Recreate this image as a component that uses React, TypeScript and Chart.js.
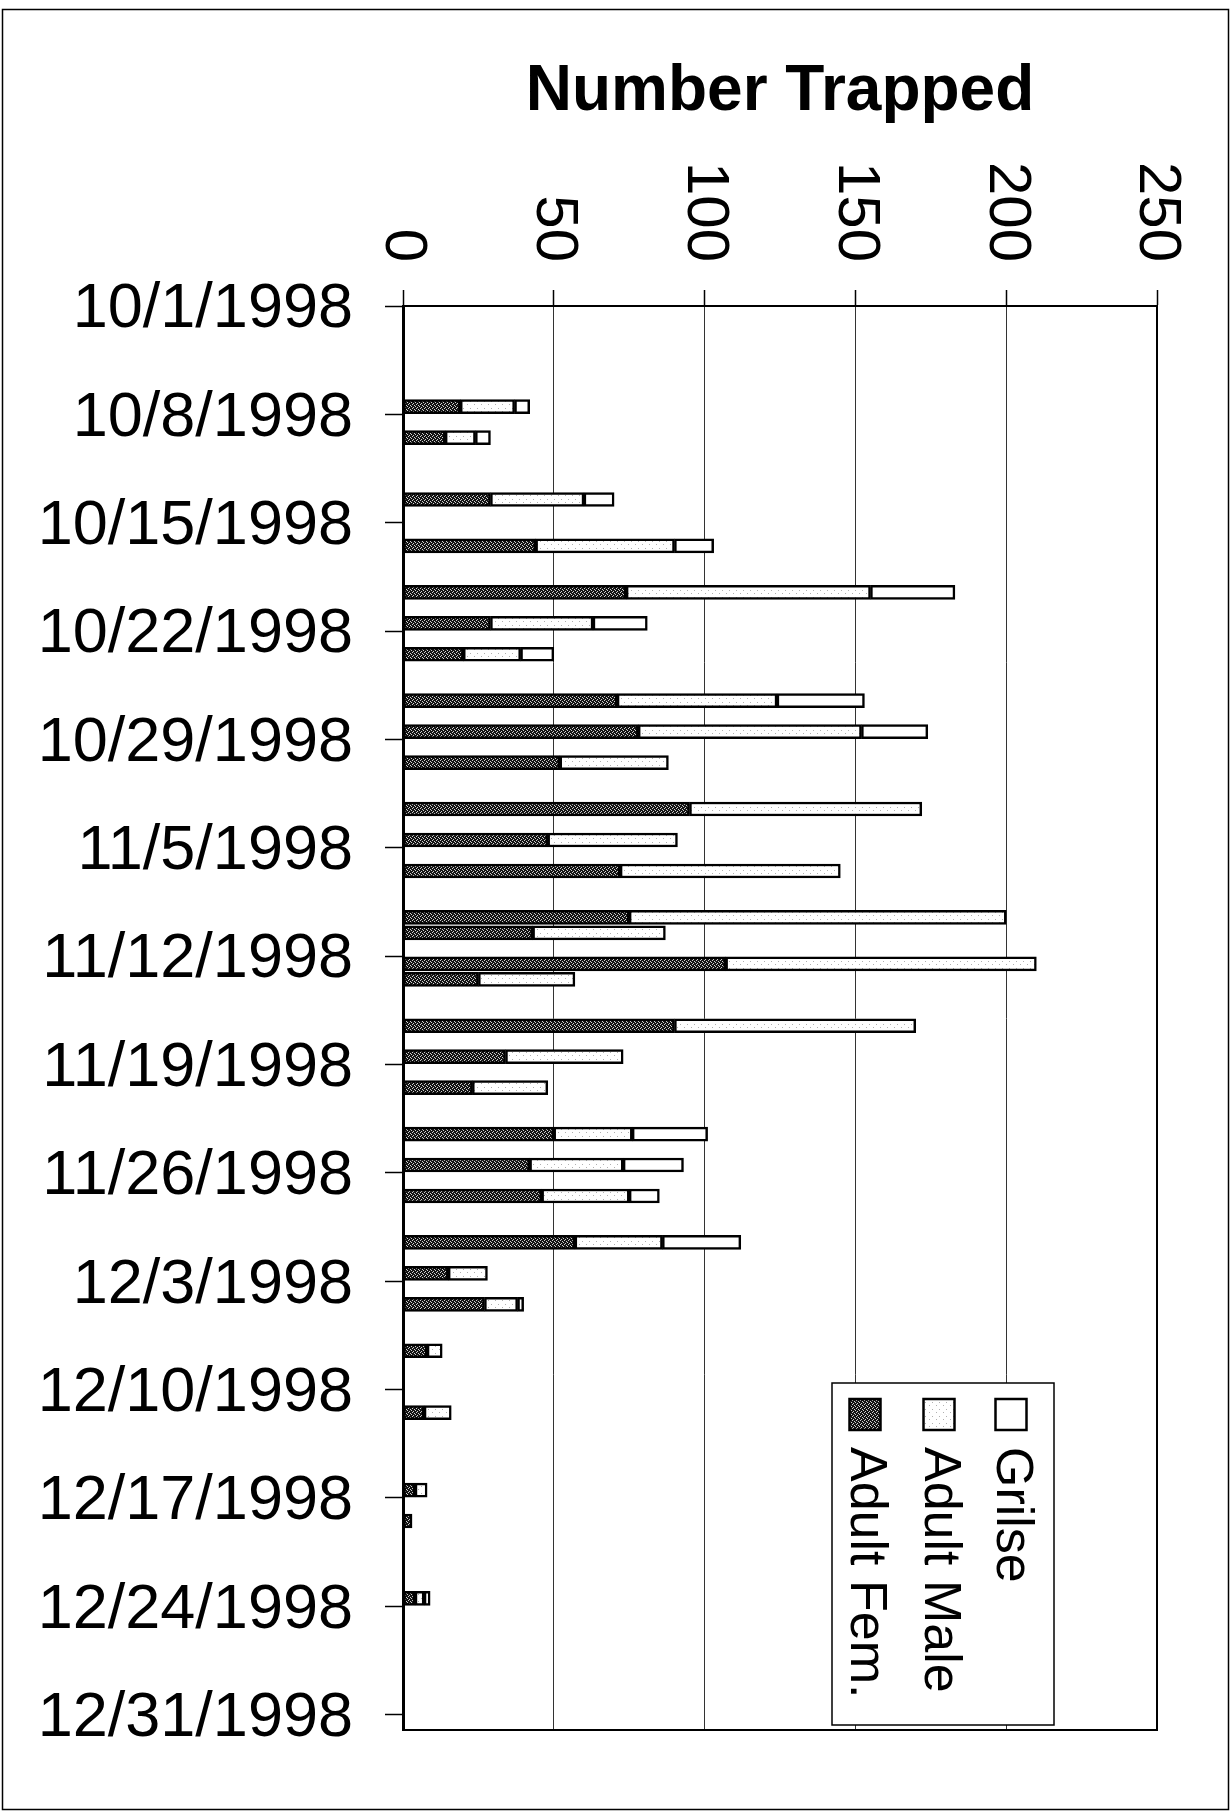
import React, { useEffect, useRef } from 'react';
import { Chart, registerables } from 'chart.js';

Chart.register(...registerables);

// ---- data ----
const trapDates = [
  '10/7/1998', '10/9/1998', '10/13/1998', '10/16/1998', '10/19/1998', '10/21/1998', '10/23/1998',
  '10/26/1998', '10/28/1998', '10/30/1998', '11/2/1998', '11/4/1998', '11/6/1998', '11/9/1998',
  '11/10/1998', '11/12/1998', '11/13/1998', '11/16/1998', '11/18/1998', '11/20/1998', '11/23/1998',
  '11/25/1998', '11/27/1998', '11/30/1998', '12/2/1998', '12/4/1998', '12/7/1998', '12/11/1998',
  '12/16/1998', '12/18/1998', '12/23/1998',
];
const adultFem = [19, 14, 29, 44, 74, 29, 20, 71, 78, 52, 95, 48, 72, 75, 43, 107, 25, 90, 34, 23, 50, 42, 46, 57, 15, 27, 8, 7, 4, 3, 4];
const adultMale = [18, 10, 31, 46, 81, 34, 19, 53, 74, 36, 77, 43, 73, 125, 44, 103, 32, 80, 39, 25, 26, 31, 29, 29, 13, 11, 5, 9, 4, 0, 3];
const grilse = [5, 5, 10, 13, 28, 18, 11, 29, 22, 0, 0, 0, 0, 0, 0, 0, 0, 0, 0, 0, 25, 20, 10, 26, 0, 2, 0, 0, 0, 0, 2];
const weekTickLabels = [
  '10/1/1998', '10/8/1998', '10/15/1998', '10/22/1998', '10/29/1998', '11/5/1998', '11/12/1998',
  '11/19/1998', '11/26/1998', '12/3/1998', '12/10/1998', '12/17/1998', '12/24/1998', '12/31/1998',
];
const xTickValues = [0, 50, 100, 150, 200, 250];
const seriesNames = ['Adult Fem.', 'Adult Male', 'Grilse'];
const axisTitle = 'Number Trapped';

const FONT = "'Liberation Sans', Arial, Helvetica, sans-serif";

function toUTC(s: string) {
  const [m, d, y] = s.split('/').map(Number);
  return Date.UTC(y, m - 1, d);
}
const startUTC = toUTC(weekTickLabels[0]);
function dayIndex(s: string) {
  return Math.round((toUTC(s) - startUTC) / 86400000);
}

function makePattern(size: number, bg: string, dots: number[][], dotColor: string) {
  const c = document.createElement('canvas');
  c.width = size;
  c.height = size;
  const g = c.getContext('2d')!;
  g.fillStyle = bg;
  g.fillRect(0, 0, size, size);
  g.fillStyle = dotColor;
  dots.forEach(([x, y]) => g.fillRect(x, y, 1, 1));
  return g.createPattern(c, 'repeat')!;
}

export default function App() {
  const ref = useRef<HTMLCanvasElement>(null);

  useEffect(() => {
    const canvas = ref.current!;
    const femFill = makePattern(4, '#141414', [[0, 0], [2, 1], [1, 3], [3, 2]], '#cfcfcf');
    const maleFill = makePattern(7, '#ffffff', [[1, 2], [5, 5]], '#b0b0b0');
    const grilseFill = '#ffffff';
    const fills = [femFill, maleFill, grilseFill];
    const seriesValues = [adultFem, adultMale, grilse];

    const axisMax = dayIndex(weekTickLabels[weekTickLabels.length - 1]) + 1;

    const datasets = seriesNames.map((name, si) => ({
      label: name,
      data: trapDates.map((d, i) => ({ x: seriesValues[si][i], y: dayIndex(d) + 0.5 })),
      backgroundColor: fills[si] as any,
      borderColor: '#000',
      borderWidth: 2.5,
      borderSkipped: false,
      barThickness: 14,
    }));

    const overlay = {
      id: 'overlay',
      afterDraw(chart: any) {
        const ctx = chart.ctx as CanvasRenderingContext2D;
        const ca = chart.chartArea;
        const xs = chart.scales.x;
        ctx.save();
        // outer frame
        ctx.strokeStyle = '#000';
        ctx.lineWidth = 1.5;
        ctx.strokeRect(2.5, 9.5, chart.width - 5, chart.height - 13);
        // plot frame
        ctx.lineWidth = 2;
        ctx.strokeRect(ca.left, ca.top, ca.right - ca.left, ca.bottom - ca.top);
        // axis title
        ctx.fillStyle = '#000';
        ctx.font = `bold 64px ${FONT}`;
        ctx.textAlign = 'center';
        ctx.textBaseline = 'alphabetic';
        ctx.fillText(axisTitle, (ca.left + ca.right) / 2, 110);
        // rotated x tick labels
        ctx.font = `60px ${FONT}`;
        for (const v of xTickValues) {
          const px = xs.getPixelForValue(v);
          ctx.save();
          ctx.translate(px, ca.top - 44);
          ctx.rotate(Math.PI / 2);
          ctx.textAlign = 'right';
          ctx.textBaseline = 'middle';
          ctx.fillText(String(v), 0, 0);
          ctx.restore();
        }
        // legend
        const lx = ca.right - 325;
        const ly = ca.bottom - 347;
        const lw = 222;
        const lh = 342;
        ctx.fillStyle = '#fff';
        ctx.fillRect(lx, ly, lw, lh);
        ctx.lineWidth = 1.5;
        ctx.strokeStyle = '#000';
        ctx.strokeRect(lx, ly, lw, lh);
        const colX = [ca.right - 292, ca.right - 218, ca.right - 146];
        seriesNames.forEach((name, i) => {
          const cx = colX[i];
          ctx.fillStyle = fills[i] as any;
          ctx.fillRect(cx - 15.5, ca.bottom - 331, 31, 31);
          ctx.lineWidth = 2.5;
          ctx.strokeStyle = '#000';
          ctx.strokeRect(cx - 15.5, ca.bottom - 331, 31, 31);
          ctx.save();
          ctx.translate(cx, ca.bottom - 283);
          ctx.rotate(Math.PI / 2);
          ctx.fillStyle = '#000';
          ctx.font = `52px ${FONT}`;
          ctx.textAlign = 'left';
          ctx.textBaseline = 'middle';
          ctx.fillText(name, 0, 0);
          ctx.restore();
        });
        ctx.restore();
      },
    };

    const chart = new Chart(canvas, {
      type: 'bar',
      data: { datasets: datasets as any },
      options: {
        animation: false,
        responsive: false,
        maintainAspectRatio: false,
        indexAxis: 'y',
        layout: { padding: { left: 0, top: 0, right: 74, bottom: 83 } },
        plugins: {
          legend: { display: false },
          title: { display: false },
          tooltip: { enabled: false },
        },
        scales: {
          x: {
            type: 'linear',
            position: 'top',
            stacked: true,
            offset: false,
            min: 0,
            max: 250,
            afterBuildTicks: (s: any) => {
              s.ticks = xTickValues.map((v) => ({ value: v }));
            },
            afterFit: (s: any) => {
              s.height = 306;
            },
            ticks: { display: false },
            grid: { offset: false, color: '#333', lineWidth: 1, drawTicks: true, tickLength: 16, tickColor: '#000', tickWidth: 1.5 },
            border: { display: true, color: '#000', width: 2 },
          },
          y: {
            type: 'linear',
            position: 'left',
            reverse: true,
            stacked: true,
            offset: false,
            min: 0,
            max: axisMax,
            afterBuildTicks: (s: any) => {
              s.ticks = weekTickLabels.map((l) => ({ value: dayIndex(l) }));
            },
            afterFit: (s: any) => {
              s.width = 403;
            },
            ticks: {
              autoSkip: false,
              padding: 32,
              labelOffset: 4,
              color: '#000',
              font: { family: FONT, size: 63 },
              callback: (_v: any, i: number) => weekTickLabels[i],
            },
            grid: { offset: false, drawOnChartArea: false, drawTicks: true, tickLength: 18, color: '#000', tickColor: '#000', tickWidth: 1.5 },
            border: { display: true, color: '#000', width: 3 },
          },
        },
      } as any,
      plugins: [overlay],
    });

    return () => chart.destroy();
  }, []);

  return (
    <div style={{ position: 'absolute', left: 0, top: 0, width: 1231, height: 1813, background: '#fff' }}>
      <canvas ref={ref} width={1231} height={1813} style={{ display: 'block' }} />
    </div>
  );
}
